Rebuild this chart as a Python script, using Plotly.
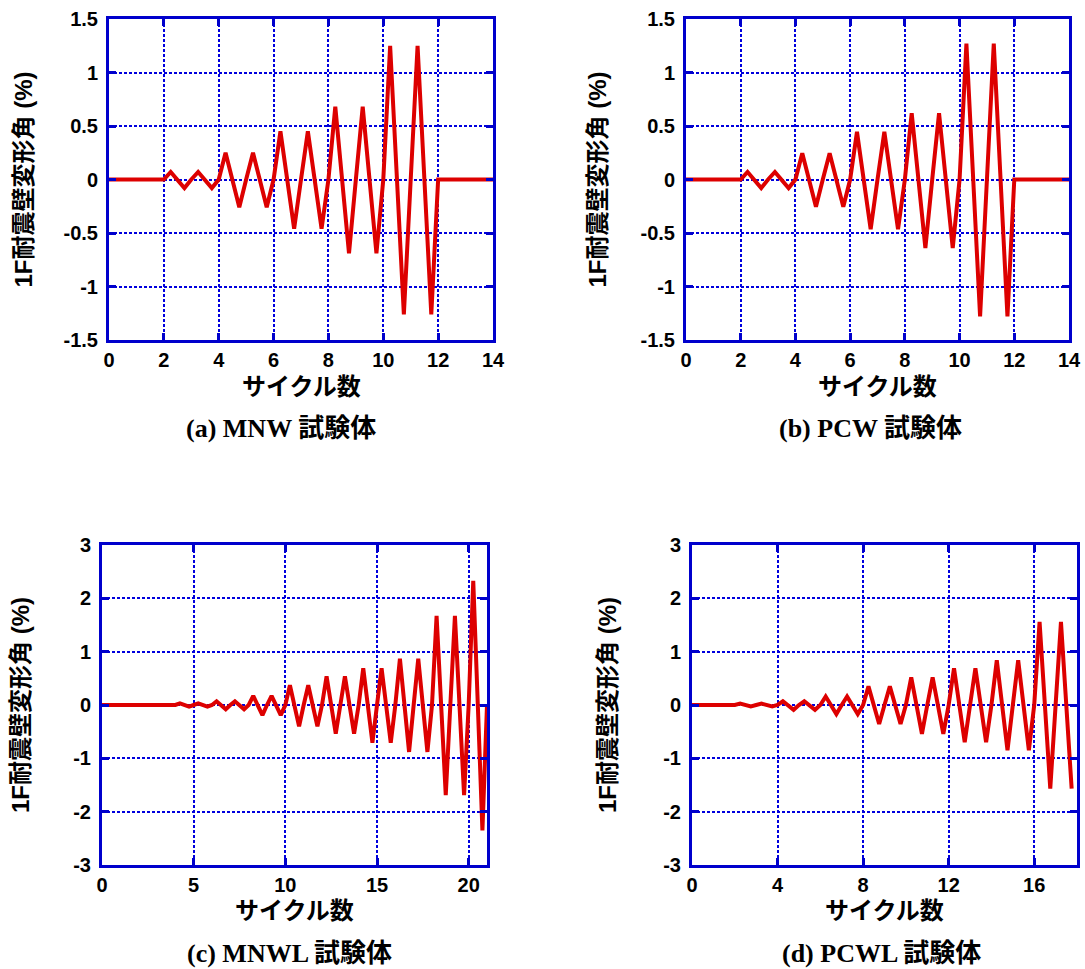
import plotly.graph_objects as go

# ---------------- data ----------------
# (a) MNW
MNW_CYCLES = [2, 3, 4, 5, 6, 7, 8, 9, 10, 11]
MNW_POS = [0.07, 0.07, 0.25, 0.25, 0.45, 0.45, 0.68, 0.68, 1.25, 1.25]
MNW_NEG = [-0.08, -0.08, -0.26, -0.26, -0.46, -0.46, -0.69, -0.69, -1.26, -1.26]
MNW_END = 14

# (b) PCW
PCW_CYCLES = [2, 3, 4, 5, 6, 7, 8, 9, 10, 11]
PCW_POS = [0.07, 0.07, 0.245, 0.245, 0.445, 0.445, 0.62, 0.62, 1.27, 1.27]
PCW_NEG = [-0.08, -0.08, -0.255, -0.255, -0.465, -0.465, -0.64, -0.64, -1.28, -1.28]
PCW_END = 14

# (c) MNWL
MNWL_CYCLES = [4, 5, 6, 7, 8, 9, 10, 11, 12, 13, 14, 15, 16, 17, 18, 19, 20]
MNWL_POS = [0.03, 0.03, 0.07, 0.07, 0.17, 0.17, 0.37, 0.37, 0.54, 0.54,
            0.69, 0.69, 0.87, 0.87, 1.67, 1.67, 2.33]
MNWL_NEG = [-0.03, -0.03, -0.08, -0.08, -0.19, -0.19, -0.40, -0.40, -0.54, -0.54,
            -0.71, -0.71, -0.88, -0.88, -1.69, -1.69, -2.35]
MNWL_END = 21

# (d) PCWL (record ends at the last trough)
PCWL_CYCLES = [2, 3, 4, 5, 6, 7, 8, 9, 10, 11, 12, 13, 14, 15, 16, 17]
PCWL_POS = [0.025, 0.025, 0.07, 0.07, 0.16, 0.16, 0.35, 0.35, 0.52, 0.52,
            0.69, 0.69, 0.84, 0.84, 1.56, 1.56]
PCWL_NEG = [-0.025, -0.025, -0.09, -0.09, -0.17, -0.17, -0.355, -0.355, -0.54, -0.54,
            -0.70, -0.70, -0.85, -0.85, -1.57, -1.57]
PCWL_END = None

X_TICKS_A = [0, 2, 4, 6, 8, 10, 12, 14]
X_TICKS_C = [0, 5, 10, 15, 20]
X_TICKS_D = [0, 4, 8, 12, 16]
Y_TICKS_AB = [-1.5, -1, -0.5, 0, 0.5, 1, 1.5]
Y_TEXT_AB = ["-1.5", "-1", "-0.5", "0", "0.5", "1", "1.5"]
Y_TICKS_CD = [-3, -2, -1, 0, 1, 2, 3]
Y_TEXT_CD = ["-3", "-2", "-1", "0", "1", "2", "3"]

CAPTIONS = ["(a) MNW 試験体", "(b) PCW 試験体", "(c) MNWL 試験体", "(d) PCWL 試験体"]
X_TITLE = "サイクル数"
Y_TITLE = "1F耐震壁変形角 (%)"


def waveform(cycles, pos, neg, end):
    xs, ys = [0], [0]
    for c, p, n in zip(cycles, pos, neg):
        xs += [c, c + 0.25, c + 0.75]
        ys += [0, p, n]
    if end is not None:
        xs += [cycles[-1] + 1, end]
        ys += [0, 0]
    return xs, ys


W, H = 1085, 969
RED = "#DD0000"
BLUE = "#0000CC"
GRID = "#0000DD"

# plot-area boxes in pixels: (left, right, top, bottom)
boxes = [(109, 493, 19, 340), (686, 1069, 19, 340),
         (102, 487, 545, 865), (692, 1077, 545, 865)]
xranges = [[0, 14], [0, 14], [0, 21], [0, 18]]
yranges = [[-1.5, 1.5], [-1.5, 1.5], [-3, 3], [-3, 3]]
xticks = [X_TICKS_A, X_TICKS_A, X_TICKS_C, X_TICKS_D]
yticks = [(Y_TICKS_AB, Y_TEXT_AB), (Y_TICKS_AB, Y_TEXT_AB),
          (Y_TICKS_CD, Y_TEXT_CD), (Y_TICKS_CD, Y_TEXT_CD)]
series = [(MNW_CYCLES, MNW_POS, MNW_NEG, MNW_END),
          (PCW_CYCLES, PCW_POS, PCW_NEG, PCW_END),
          (MNWL_CYCLES, MNWL_POS, MNWL_NEG, MNWL_END),
          (PCWL_CYCLES, PCWL_POS, PCWL_NEG, PCWL_END)]

fig = go.Figure()
layout = dict(
    template="none",
    width=W, height=H,
    margin=dict(l=0, r=0, t=0, b=0, pad=0),
    paper_bgcolor="white", plot_bgcolor="white",
    showlegend=False,
    annotations=[],
)

tickfont = dict(family="Liberation Sans, Arial, sans-serif", size=20, color="black", weight="bold")
titlefont = dict(family="Liberation Sans, Noto Sans CJK JP, sans-serif", size=24, color="black", weight="bold")
capfont = dict(family="Liberation Serif, Noto Sans CJK JP, serif", size=26, color="black", weight="bold")

ytitle_x = [23, 597, 20, 607]
cap_pos = [(281, 428), (870, 428), (289, 953), (881, 953)]
xtitle_y = [386, 386, 910, 910]

for i in range(4):
    n = "" if i == 0 else str(i + 1)
    l, r, t, b = boxes[i]
    xs, ys = waveform(*series[i])
    fig.add_trace(go.Scatter(x=xs, y=ys, mode="lines",
                             line=dict(color=RED, width=4),
                             xaxis="x" + n, yaxis="y" + n, hoverinfo="skip"))
    common = dict(showline=True, linecolor=BLUE, linewidth=3, mirror="ticks",
                  ticks="inside", ticklen=7, tickwidth=2.5, tickcolor=BLUE,
                  showgrid=True, gridcolor=GRID, gridwidth=2, griddash="3px,2px",
                  zeroline=False, tickfont=tickfont, fixedrange=True,
                  automargin=False)
    layout["xaxis" + n] = dict(domain=[l / W, r / W], range=xranges[i],
                               tickmode="array", tickvals=xticks[i],
                               anchor="y" + n, ticklabelstandoff=0, **common)
    layout["yaxis" + n] = dict(domain=[1 - b / H, 1 - t / H], range=yranges[i],
                               tickmode="array", tickvals=yticks[i][0], ticktext=yticks[i][1],
                               anchor="x" + n, ticklabelstandoff=4, **common)
    # axis titles
    layout["annotations"].append(dict(
        text=X_TITLE, x=(l + r) / 2 / W, y=1 - xtitle_y[i] / H,
        xref="paper", yref="paper", xanchor="center", yanchor="middle",
        showarrow=False, font=titlefont))
    layout["annotations"].append(dict(
        text=Y_TITLE, x=ytitle_x[i] / W, y=1 - (t + b) / 2 / H,
        xref="paper", yref="paper", xanchor="center", yanchor="middle",
        textangle=-90, showarrow=False, font=titlefont))
    layout["annotations"].append(dict(
        text=CAPTIONS[i], x=cap_pos[i][0] / W, y=1 - cap_pos[i][1] / H,
        xref="paper", yref="paper", xanchor="center", yanchor="middle",
        showarrow=False, font=capfont))

fig.update_layout(**layout)
fig.write_html(
    "out.html",
    config={"displayModeBar": False},
    post_script="document.body.style.margin='0px';document.body.style.overflow='hidden';",
)
